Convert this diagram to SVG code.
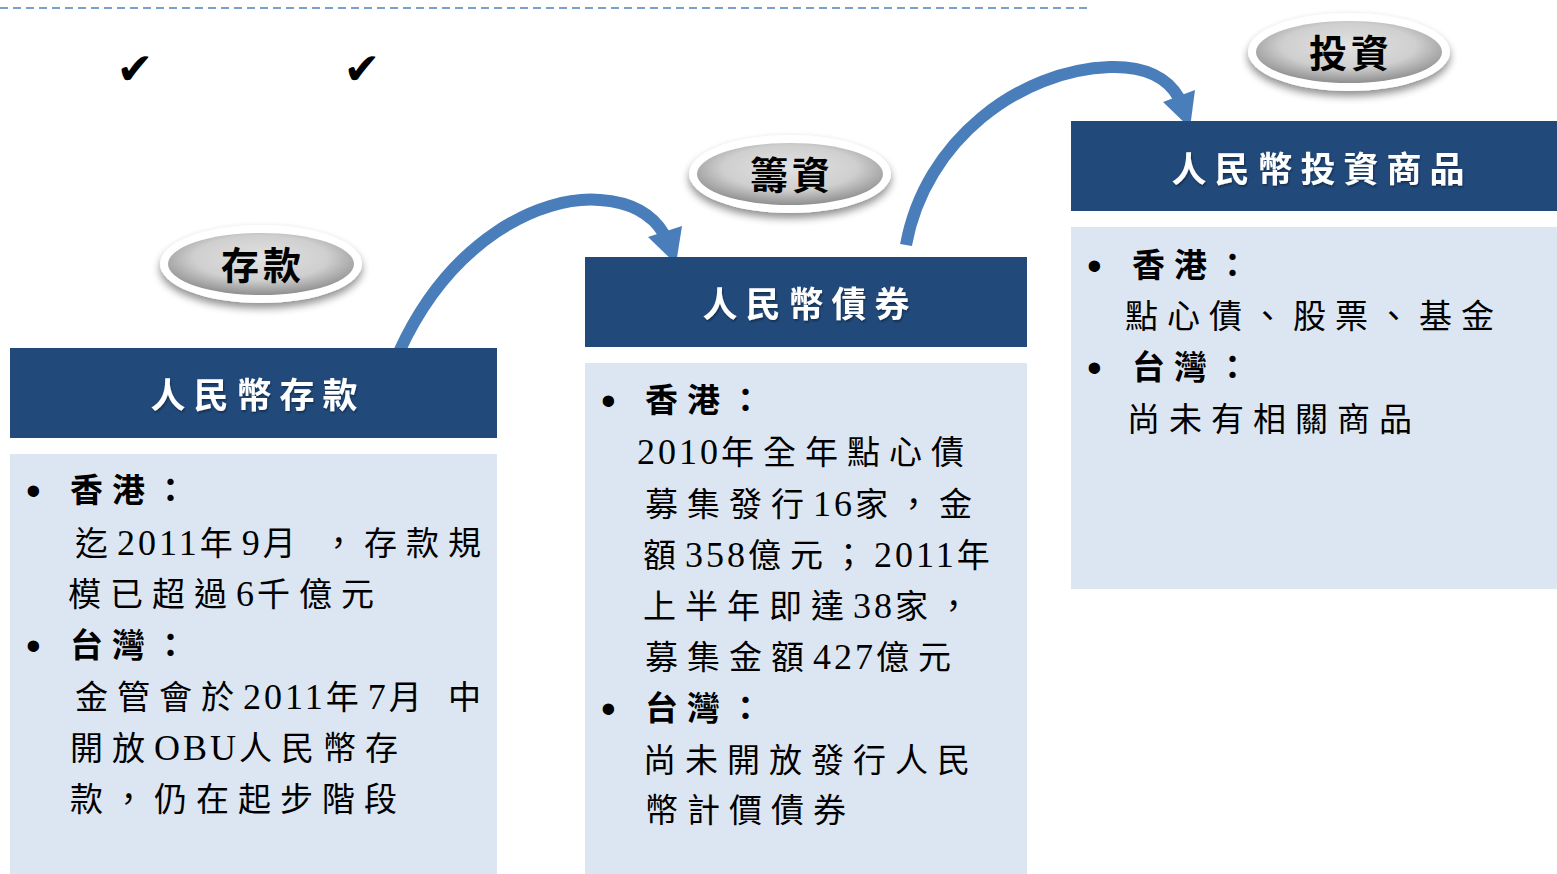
<svg xmlns="http://www.w3.org/2000/svg" width="1557" height="874" viewBox="0 0 1557 874">
<defs>
<radialGradient id="grey" cx="50%" cy="40%" r="60%">
<stop offset="0" stop-color="#e2e2e2"/>
<stop offset="0.6" stop-color="#cfcfcf"/>
<stop offset="1" stop-color="#8f8f8f"/>
</radialGradient>
<filter id="sh" x="-20%" y="-30%" width="140%" height="170%">
<feGaussianBlur in="SourceAlpha" stdDeviation="4"/>
<feOffset dx="0" dy="5" result="b"/>
<feComponentTransfer><feFuncA type="linear" slope="0.45"/></feComponentTransfer>
<feMerge><feMergeNode/><feMergeNode in="SourceGraphic"/></feMerge>
</filter>
<filter id="ts" x="-10%" y="-10%" width="120%" height="130%">
<feGaussianBlur in="SourceAlpha" stdDeviation="1"/>
<feOffset dx="1" dy="2"/>
<feComponentTransfer><feFuncA type="linear" slope="0.35"/></feComponentTransfer>
<feMerge><feMergeNode/><feMergeNode in="SourceGraphic"/></feMerge>
</filter>
</defs>
<style>
.hd{fill:#214a7b}
.bd{fill:#dce6f2}
.ht{font-family:"Liberation Serif","Noto Sans CJK TC",serif;font-size:35px;font-weight:bold;fill:#fff;letter-spacing:8px;text-anchor:middle}
.tx{font-family:"Liberation Serif","Noto Sans CJK TC",serif;font-size:33px;fill:#000;letter-spacing:9px}
.n{letter-spacing:3px;font-size:36px}
.b{font-weight:bold}
.bul{font-family:"Liberation Sans",sans-serif;font-size:42px;fill:#000}
.ol{font-family:"Noto Sans CJK TC",serif;font-size:38px;font-weight:bold;fill:#000;text-anchor:middle;letter-spacing:4px}
.arr{fill:none;stroke:#4a7ebb;stroke-width:12}
.ah{fill:#4a7ebb}
.ck{font-family:"DejaVu Sans",sans-serif;font-size:44px;fill:#000;text-anchor:middle}
</style>

<line x1="0" y1="8" x2="1088" y2="8" stroke="#4f81bd" stroke-width="1.6" stroke-dasharray="8,5"/>
<text class="ck" x="135" y="84">✔</text>
<text class="ck" x="362" y="84">✔</text>

<g id="connectors">
<path class="arr" d="M399,352 C450,240 540,195 600,200 C630,202 652,214 664,234"/>
<polygon class="ah" points="648,237 682,226 676,264"/>
<path class="arr" d="M906,245 C925,140 1020,70 1110,67 C1145,66 1168,78 1179,98"/>
<polygon class="ah" points="1163,102 1195,90 1190,128"/>
</g>

<g id="oval-deposit">
<ellipse cx="261" cy="264" rx="101" ry="39" fill="#fff" filter="url(#sh)"/>
<ellipse cx="261" cy="264" rx="93" ry="31" fill="url(#grey)"/>
<text class="ol" x="263" y="279">存款</text>
</g>
<g id="oval-financing">
<ellipse cx="790" cy="174" rx="101" ry="39" fill="#fff" filter="url(#sh)"/>
<ellipse cx="790" cy="174" rx="93" ry="31" fill="url(#grey)"/>
<text class="ol" x="792" y="189">籌資</text>
</g>
<g id="oval-invest">
<ellipse cx="1349" cy="52" rx="101" ry="39" fill="#fff" filter="url(#sh)"/>
<ellipse cx="1349" cy="52" rx="93" ry="31" fill="url(#grey)"/>
<text class="ol" x="1351" y="67">投資</text>
</g>

<g id="node-deposit">
<rect class="hd" x="10" y="348" width="487" height="90"/>
<text class="ht" x="258" y="408" filter="url(#ts)">人民幣存款</text>
<rect class="bd" x="10" y="454" width="487" height="420"/>
<text class="bul" x="26" y="505">•</text>
<text class="tx b" x="70" y="502">香港：</text>
<text class="tx" x="75" y="555">迄<tspan class="n">2011</tspan>年<tspan class="n">9</tspan>月 ，存款規</text>
<text class="tx" x="68" y="606">模已超過<tspan class="n">6</tspan>千億元</text>
<text class="bul" x="26" y="660">•</text>
<text class="tx b" x="70" y="657">台灣：</text>
<text class="tx" x="75" y="709">金管會於<tspan class="n">2011</tspan>年<tspan class="n">7</tspan>月 中</text>
<text class="tx" x="70" y="760">開放<tspan class="n">OBU</tspan>人民幣存</text>
<text class="tx" x="70" y="811">款，仍在起步階段</text>
</g>

<g id="node-bonds">
<rect class="hd" x="585" y="257" width="442" height="90"/>
<text class="ht" x="810" y="317" filter="url(#ts)">人民幣債券</text>
<rect class="bd" x="585" y="363" width="442" height="511"/>
<text class="bul" x="601" y="415">•</text>
<text class="tx b" x="645" y="412">香港：</text>
<text class="tx" x="637" y="464"><tspan class="n">2010</tspan>年全年點心債</text>
<text class="tx" x="645" y="516">募集發行<tspan class="n">16</tspan>家，金</text>
<text class="tx" x="643" y="567">額<tspan class="n">358</tspan>億元；<tspan class="n">2011</tspan>年</text>
<text class="tx" x="643" y="618">上半年即達<tspan class="n">38</tspan>家，</text>
<text class="tx" x="645" y="669">募集金額<tspan class="n">427</tspan>億元</text>
<text class="bul" x="601" y="723">•</text>
<text class="tx b" x="645" y="720">台灣：</text>
<text class="tx" x="643" y="772">尚未開放發行人民</text>
<text class="tx" x="645" y="822">幣計價債券</text>
</g>

<g id="node-invest">
<rect class="hd" x="1071" y="121" width="486" height="90"/>
<text class="ht" x="1322" y="182" filter="url(#ts)">人民幣投資商品</text>
<rect class="bd" x="1071" y="227" width="486" height="362"/>
<text class="bul" x="1087" y="280">•</text>
<text class="tx b" x="1132" y="277">香港：</text>
<text class="tx" x="1125" y="328">點心債、股票、基金</text>
<text class="bul" x="1087" y="382">•</text>
<text class="tx b" x="1132" y="379">台灣：</text>
<text class="tx" x="1127" y="431">尚未有相關商品</text>
</g>
</svg>
